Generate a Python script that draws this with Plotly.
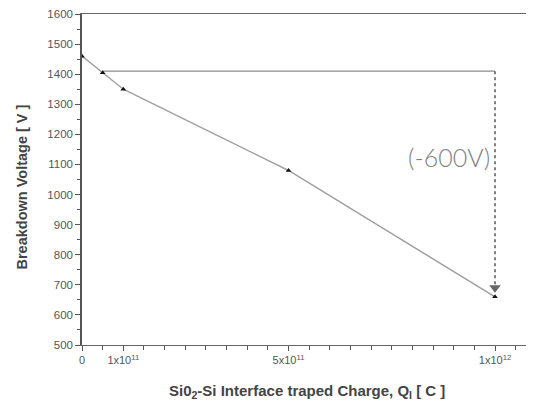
import plotly.graph_objects as go

# Data
charge = [0, 0.5e11, 1e11, 5e11, 1e12]
voltage = [1460, 1405, 1350, 1080, 660]

# Reference line / arrow annotation values
ref_level = 1410
ref_x_start = 0.5e11
ref_x_end = 1e12
arrow_end = 690
label_text = "(-600V)"
label_y = 1125

x_tickvals = [0, 1e11, 5e11, 1e12]
x_ticktext = ["0", "1x10<sup>11</sup>", "5x10<sup>11</sup>", "1x10<sup>12</sup>"]
y_tickvals = list(range(500, 1601, 100))

x_title = "Si0<sub>2</sub>-Si Interface traped Charge, Q<sub>I</sub> [ C ]"
y_title = "Breakdown Voltage [ V ]"

FONT = "Liberation Sans, Arial"

fig = go.Figure()

# horizontal reference line
fig.add_trace(go.Scatter(x=[ref_x_start, ref_x_end], y=[ref_level, ref_level],
                         mode="lines", line=dict(color="#8a8a8a", width=1.3),
                         hoverinfo="skip", showlegend=False))
# dotted vertical arrow
fig.add_trace(go.Scatter(x=[ref_x_end, ref_x_end], y=[ref_level, arrow_end],
                         mode="lines", line=dict(color="#555555", width=1.5, dash="dot"),
                         hoverinfo="skip", showlegend=False))
fig.add_trace(go.Scatter(x=[ref_x_end], y=[arrow_end], mode="markers",
                         marker=dict(symbol="triangle-down", size=10, color="#666666"),
                         hoverinfo="skip", showlegend=False))

# data curve
fig.add_trace(go.Scatter(x=charge, y=voltage, mode="lines+markers",
                         line=dict(color="#a0a0a0", width=1.5),
                         marker=dict(symbol="triangle-up", size=5, color="#111111"),
                         showlegend=False))

fig.add_annotation(x=0.993e12, y=label_y, text=label_text, showarrow=False,
                   xanchor="right", yanchor="middle",
                   font=dict(family="Lato, Open Sans", size=25, color="#808080", weight=300))

# axis titles as annotations
fig.add_annotation(xref="paper", yref="paper", x=0, y=0.5, text=y_title,
                   textangle=-90, showarrow=False, xanchor="center", yanchor="middle",
                   xshift=-61, yshift=-8,
                   font=dict(family=FONT, size=14.5, color="#444", weight="bold"))
fig.add_annotation(xref="paper", yref="paper", x=0.5, y=0, text=x_title,
                   showarrow=False, xanchor="center", yanchor="middle",
                   xshift=-1, yshift=-46,
                   font=dict(family=FONT, size=15, color="#444", weight="bold"))

fig.update_xaxes(range=[0, 1.092e12], tickvals=x_tickvals, ticktext=x_ticktext,
                 automargin=False,
                 ticks="outside", ticklen=5, tickcolor="#555",
                 minor=dict(dtick=0.5e11, tick0=0, ticks="outside", ticklen=4, tickcolor="#555"),
                 showline=True, linecolor="#666", linewidth=1.3, mirror=True,
                 showgrid=False, zeroline=False,
                 tickfont=dict(family=FONT, size=11, color="#555"))
fig.update_yaxes(range=[500, 1600], tickvals=y_tickvals,
                 automargin=False, ticklabeloverflow="allow",
                 ticks="outside", ticklen=5, tickcolor="#555",
                 minor=dict(dtick=50, tick0=500, ticks="outside", ticklen=3, tickcolor="#555"),
                 showline=True, linecolor="#555", linewidth=1.5, mirror=False,
                 showgrid=False, zeroline=False,
                 tickfont=dict(family=FONT, size=11.5, color="#555"))

fig.update_layout(width=526, height=395, margin=dict(l=74, r=1, t=6, b=58),
                  paper_bgcolor="white", plot_bgcolor="white")

fig.write_html("out.html")
